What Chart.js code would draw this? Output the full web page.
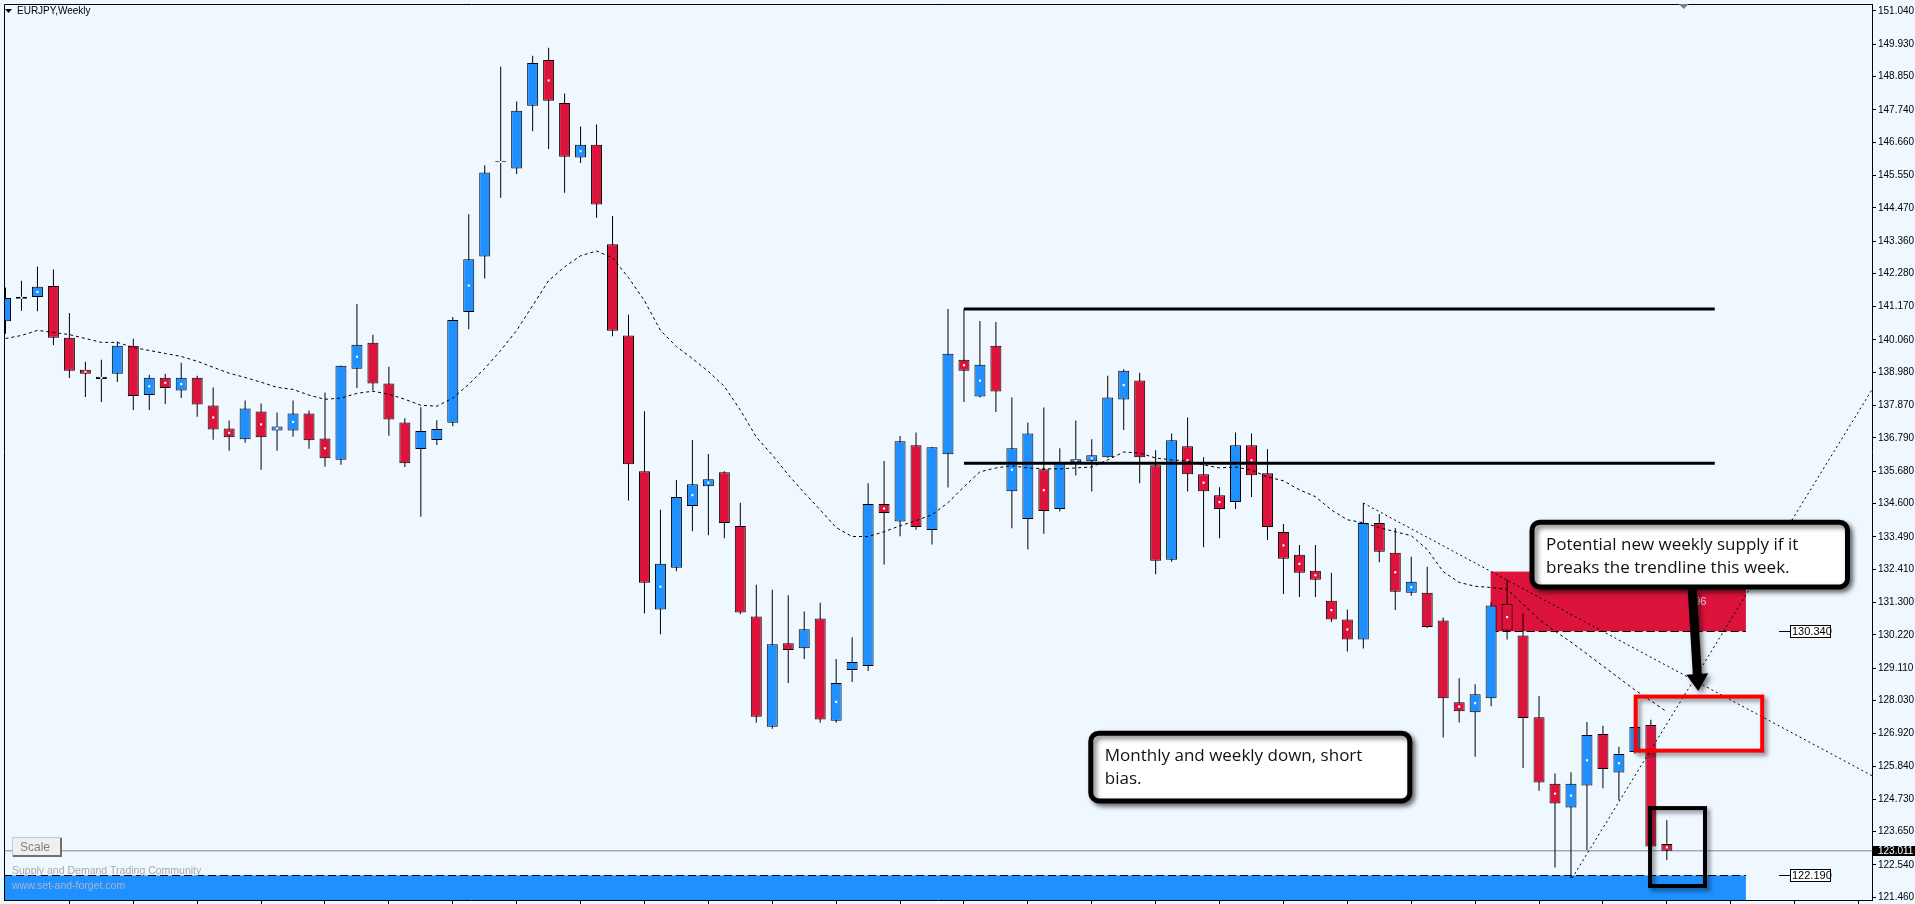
<!DOCTYPE html>
<html>
<head>
<meta charset="utf-8">
<title>EURJPY,Weekly</title>
<script src="https://cdn.jsdelivr.net/npm/chart.js@4.4.0/dist/chart.umd.min.js"></script>
<style>
  html, body { margin: 0; padding: 0; background: #F0F8FF; overflow: hidden; }
  #myChart { display: block; }
</style>
</head>
<body>
<canvas id="myChart" width="1915" height="904"></canvas>
<script>
// weekly candles, index 0 = first visible bar
var opens = [140.684,141.504,141.494,141.860,140.132,139.069,138.836,138.936,139.866,138.225,
  138.803,138.371,138.803,137.873,137.109,136.743,137.674,137.042,137.042,137.607,
  136.776,136.065,139.102,139.966,138.604,137.308,136.421,136.720,137.298,140.996,
  142.843,145.993,145.780,147.874,149.402,147.973,146.146,146.578,143.255,140.209,
  135.680,131.062,132.457,134.517,135.182,135.647,133.853,130.829,127.151,129.942,
  129.776,130.763,127.351,129.045,129.178,134.584,134.006,136.544,133.720,136.245,
  139.401,138.172,139.866,135.015,134.085,135.746,134.417,135.979,136.012,136.145,
  138.072,138.704,135.880,132.723,136.511,135.580,134.882,134.650,136.544,135.614,
  133.653,132.889,132.357,131.361,130.729,130.065,133.952,132.956,131.626,131.626,
  130.696,127.972,127.639,128.105,131.261,130.198,127.473,125.247,124.460,125.191,
  126.909,125.623,126.310,127.208,123.240];
var highs = [141.813,142.036,142.511,142.411,140.963,139.335,139.401,140.009,140.099,138.903,
  138.936,139.302,138.870,138.471,137.375,138.039,137.939,137.640,138.039,137.707,
  138.305,139.212,141.262,140.232,139.169,137.451,137.816,137.384,140.830,144.252,
  145.890,149.179,148.016,149.545,149.811,148.282,147.186,147.252,144.196,140.906,
  137.684,134.394,135.391,136.720,136.255,135.680,134.627,131.892,131.726,131.537,
  130.995,131.294,129.410,130.141,135.281,136.022,136.853,136.976,136.487,141.096,
  141.096,140.697,140.664,138.139,137.308,137.806,136.444,137.375,136.743,138.870,
  139.080,138.969,136.378,136.943,137.474,136.145,135.148,136.976,136.943,136.411,
  133.919,133.221,133.221,132.291,131.062,134.617,134.251,133.786,132.822,132.490,
  130.796,128.769,128.570,131.304,132.059,130.929,128.181,125.590,125.633,127.307,
  127.184,126.487,127.251,127.384,124.028];
var lows = [140.265,141.039,141.016,139.886,138.790,138.159,137.993,138.657,137.727,137.727,
  137.926,138.125,137.494,136.730,136.364,136.630,135.733,136.364,136.830,136.431,
  135.833,135.899,138.458,138.371,136.863,135.823,134.162,136.554,137.185,140.418,
  142.112,144.804,145.601,147.030,146.432,144.970,145.967,144.139,140.185,134.703,
  130.929,130.241,132.344,133.673,133.540,133.441,130.906,127.284,127.085,128.613,
  129.410,127.284,127.284,128.646,129.012,132.567,133.507,133.730,133.231,135.135,
  137.993,138.139,137.660,133.773,133.065,133.597,134.338,135.534,135.002,136.130,
  137.052,135.281,132.245,132.656,135.002,133.142,133.441,134.417,134.816,133.387,
  131.580,131.481,131.481,130.650,129.666,129.766,132.643,131.048,131.527,130.450,
  126.796,127.294,126.154,127.839,130.065,125.779,125.015,122.456,122.101,123.041,
  125.101,124.703,126.254,123.154,122.709];
var closes = [141.461,141.438,141.837,140.132,139.036,138.936,138.757,139.866,138.192,138.803,
  138.458,138.803,137.906,137.075,136.810,137.773,136.810,137.175,137.607,136.710,
  136.112,139.202,139.900,138.604,137.408,135.946,137.019,137.085,140.730,142.757,
  145.648,146.006,147.708,149.302,148.040,146.179,146.578,144.584,140.365,135.913,
  131.959,132.590,134.816,135.248,135.414,133.952,130.962,127.483,129.909,129.710,
  130.407,127.394,128.613,129.311,134.584,134.284,136.677,133.819,136.477,139.601,
  139.036,139.235,138.338,136.444,136.943,134.351,135.946,136.079,136.212,138.139,
  139.036,136.145,132.690,136.710,135.580,135.015,134.417,136.544,135.547,133.819,
  132.756,132.291,132.059,130.729,130.065,133.952,132.989,131.660,131.992,130.484,
  128.105,127.673,128.238,131.195,130.364,127.440,125.291,124.593,125.247,126.875,
  125.746,126.244,127.141,123.154,123.011];
// dotted moving average
var maValues = [140.11,140.21,140.38,140.31,140.24,140.11,139.98,139.98,139.81,139.71,
  139.61,139.51,139.35,139.15,138.95,138.81,138.65,138.48,138.41,138.22,
  138.08,138.12,138.28,138.35,138.25,138.08,137.88,137.85,138.12,138.58,
  139.11,139.71,140.38,141.21,142.04,142.50,142.87,143.03,142.80,142.14,
  141.37,140.38,139.84,139.44,139.01,138.51,137.72,136.82,136.22,135.56,
  134.96,134.39,133.80,133.50,133.50,133.66,133.86,134.03,134.23,134.63,
  135.16,135.66,135.79,135.86,135.79,135.76,135.76,135.79,135.82,136.06,
  136.32,136.29,136.12,136.06,136.02,135.89,135.79,135.82,135.72,135.49,
  135.36,135.06,134.83,134.39,134.06,133.96,133.80,133.66,133.53,133.07,
  132.33,131.97,131.84,131.80,131.74,131.24,130.74,130.34,129.98,129.58,
  129.18,128.78,128.38,128.02,127.65];
// bars that carry the small white marker
var dotBars = [1,2,5,6,9,10,11,13,14,16,17,18,20,22,29,31,34,36,41,43,44,52,55,60,61,63,65,67,68,70,
  74,75,76,78,80,81,82,83,84,87,88,91,92,94,97,98,99,101,102,104];

var yTickValues = [151.040,149.930,148.850,147.740,146.660,145.550,144.470,143.360,142.280,141.170,
  140.060,138.980,137.870,136.790,135.680,134.600,133.490,132.410,131.300,130.220,
  129.110,128.030,126.920,125.840,124.730,123.650,122.540,121.460];
var xTickBars = [4,8,12,16,20,24,28,32,36,40,44,48,52,56,60,64,68,72,76,80,84,88,92,96,100,104,108,112,116];

var levelPrices = [141.096, 135.946];   // the two black horizontal lines
var levelBars = [60, 107];
var supplyZone = [130.34, 132.33];
var demandTop = 122.19;
var zoneBars = [92.97, 108.95];
var lastPrice = 123.011;
var trend1 = [{x: 85, y: 134.617}, {x: 116.84, y: 125.52}];
var trend2 = [{x: 98.07, y: 122.101}, {x: 116.84, y: 138.40}];

var xMin = -0.09375, xMax = 116.84375;
var yMin = 121.370, yMax = 151.273;

var bull = '#1E90FF', bear = '#DC143C';

function xy(vals) { return vals.map(function (v, i) { return {x: i, y: v}; }); }

var bodyData = opens.map(function (o, i) { return {x: i, y: [o, closes[i]]}; });
var wickData = opens.map(function (o, i) { return {x: i, y: [lows[i], highs[i]]}; });
var bodyColors = opens.map(function (o, i) { return closes[i] >= o ? bull : bear; });
var dotData = dotBars.map(function (i) { return {x: i, y: (opens[i] + closes[i]) / 2}; });

// annotation boxes in bar/price coordinates
var redBox = {x0: 102.05, x1: 109.97, top: 128.158, bottom: 126.354};
var blackBox = {x0: 102.95, x1: 106.39, top: 124.437, bottom: 121.836};
var callouts = [
  {x0: 95.56, x1: 115.31, top: 133.979, bottom: 131.82,
   lines: ['Potential new weekly supply if it', 'breaks the trendline this week.']},
  {x0: 67.94, x1: 87.91, top: 126.935, bottom: 124.676,
   lines: ['Monthly and weekly down, short', 'bias.']}
];
var arrowFrom = {x: 105.59, y: 131.736}, arrowTo = {x: 105.97, y: 128.347};
var labelBar = 111.03;
var shiftBar = 105.06;

function fmt(v) { return v.toFixed(3); }

var zonesPlugin = {
  id: 'zones',
  beforeDraw: function (chart) {
    var c = chart.ctx;
    c.save();
    c.fillStyle = '#F0F8FF';
    c.fillRect(0, 0, chart.width, chart.height);
    c.restore();
  },
  beforeDatasetsDraw: function (chart) {
    var c = chart.ctx, a = chart.chartArea, x = chart.scales.x, y = chart.scales.y;
    var zx0 = x.getPixelForValue(zoneBars[0]), zx1 = x.getPixelForValue(zoneBars[1]);
    c.save();
    c.beginPath(); c.rect(a.left, a.top, a.right - a.left, a.bottom - a.top); c.clip();
    // supply zone
    var st = y.getPixelForValue(supplyZone[1]), sb = y.getPixelForValue(supplyZone[0]);
    c.fillStyle = bear;
    c.fillRect(zx0, st, zx1 - zx0, sb - st);
    // demand zone
    var dt = y.getPixelForValue(demandTop);
    c.fillStyle = bull;
    c.fillRect(a.left, dt, zx1 - a.left, a.bottom - dt);
    c.setLineDash([8, 4]);
    c.strokeStyle = '#000';
    c.lineWidth = 1;
    c.beginPath();
    c.moveTo(zx0, Math.round(sb) + 0.5); c.lineTo(zx1, Math.round(sb) + 0.5);
    c.moveTo(a.left, Math.round(dt) + 0.5); c.lineTo(zx1, Math.round(dt) + 0.5);
    c.stroke();
    c.setLineDash([]);
    c.fillStyle = '#F3D3DA';
    c.font = '11px "Liberation Sans", Arial, sans-serif';
    c.textAlign = 'right';
    c.fillText('96', x.getPixelForValue(105.85) + 10, (st + sb) / 2 + 4);
    c.restore();
  },
  afterDatasetsDraw: function (chart) {
    var c = chart.ctx, x = chart.scales.x, y = chart.scales.y;
    c.save();
    // level labels on the right of the zones
    [supplyZone[0], demandTop].forEach(function (v) {
      var ly = Math.round(y.getPixelForValue(v)) + 0.5;
      var lx = Math.round(x.getPixelForValue(labelBar));
      c.strokeStyle = '#000'; c.lineWidth = 1;
      c.beginPath(); c.moveTo(lx, ly); c.lineTo(lx + 11, ly); c.stroke();
      c.fillStyle = '#fff';
      c.fillRect(lx + 11.5, ly - 6, 40, 12);
      c.strokeRect(lx + 11.5, ly - 6, 40, 12);
      c.fillStyle = '#000';
      c.font = '11px "Liberation Sans", Arial, sans-serif';
      c.textAlign = 'left'; c.textBaseline = 'middle';
      c.fillText(fmt(v), lx + 13, ly + 0.5);
    });
    c.textBaseline = 'alphabetic';
    // shadowed outline boxes
    function box(b, color, w) {
      var x0 = x.getPixelForValue(b.x0), x1 = x.getPixelForValue(b.x1);
      var y0 = y.getPixelForValue(b.top), y1 = y.getPixelForValue(b.bottom);
      c.save();
      c.shadowColor = 'rgba(0,0,0,0.45)'; c.shadowBlur = 4; c.shadowOffsetX = 3; c.shadowOffsetY = 3;
      c.strokeStyle = color; c.lineWidth = w;
      c.strokeRect(x0, y0, x1 - x0, y1 - y0);
      c.restore();
    }
    box(redBox, '#FF0000', 4);
    box(blackBox, '#000', 4);
    // callouts
    callouts.forEach(function (b, k) {
      var x0 = x.getPixelForValue(b.x0), x1 = x.getPixelForValue(b.x1);
      var y0 = y.getPixelForValue(b.top), y1 = y.getPixelForValue(b.bottom);
      c.save();
      c.shadowColor = 'rgba(0,0,0,0.5)'; c.shadowBlur = 5; c.shadowOffsetX = 3; c.shadowOffsetY = 3;
      c.beginPath();
      c.roundRect(x0, y0, x1 - x0, y1 - y0, 8);
      c.fillStyle = '#fff'; c.fill();
      c.lineWidth = 5; c.strokeStyle = '#000'; c.stroke();
      if (k === 0) {
        var sx = x.getPixelForValue(arrowFrom.x), sy = y.getPixelForValue(arrowFrom.y);
        var tx = x.getPixelForValue(arrowTo.x), ty = y.getPixelForValue(arrowTo.y);
        var ang = Math.atan2(ty - sy, tx - sx), cs = Math.cos(ang), sn = Math.sin(ang);
        var bx = tx - 17 * cs, by = ty - 17 * sn, nx = -sn, ny = cs;
        c.beginPath();
        c.moveTo(sx + nx * 4.5, sy + ny * 4.5);
        c.lineTo(bx + nx * 4.5, by + ny * 4.5);
        c.lineTo(bx + nx * 11, by + ny * 11);
        c.lineTo(tx, ty);
        c.lineTo(bx - nx * 11, by - ny * 11);
        c.lineTo(bx - nx * 4.5, by - ny * 4.5);
        c.lineTo(sx - nx * 4.5, sy - ny * 4.5);
        c.closePath();
        c.fillStyle = '#000'; c.fill();
      }
      c.restore();
      c.fillStyle = '#111';
      c.font = '17px "Open Sans", "Noto Sans", sans-serif';
      c.textAlign = 'left';
      b.lines.forEach(function (t, j) {
        c.fillText(t, x0 + 14, y0 + 28 + j * 23);
      });
    });
    c.restore();
  },
  afterDraw: function (chart) {
    var c = chart.ctx, a = chart.chartArea, x = chart.scales.x, y = chart.scales.y;
    c.save();
    // frame
    c.strokeStyle = '#000'; c.lineWidth = 1;
    c.beginPath();
    c.moveTo(a.left + 0.5, a.bottom); c.lineTo(a.left + 0.5, a.top + 0.5); c.lineTo(a.right, a.top + 0.5);
    c.stroke();
    // symbol caption
    c.fillStyle = '#000';
    c.beginPath(); c.moveTo(5, 9); c.lineTo(12, 9); c.lineTo(8.5, 13); c.closePath(); c.fill();
    c.font = '10px "Liberation Sans", Arial, sans-serif';
    c.textAlign = 'left';
    c.fillText('EURJPY,Weekly', 17, 14);
    // chart shift marker
    var mx = x.getPixelForValue(shiftBar);
    c.fillStyle = '#708090';
    c.beginPath(); c.moveTo(mx - 5, a.top); c.lineTo(mx + 5, a.top); c.lineTo(mx, a.top + 5); c.closePath(); c.fill();
    // scale button
    c.fillStyle = '#EFEFEF';
    c.fillRect(12, 837, 50, 20);
    c.strokeStyle = '#C8C8C8';
    c.beginPath(); c.moveTo(12.5, 856.5); c.lineTo(12.5, 837.5); c.lineTo(61.5, 837.5); c.stroke();
    c.strokeStyle = '#707070'; c.lineWidth = 2;
    c.beginPath(); c.moveTo(13, 856); c.lineTo(61, 856); c.lineTo(61, 838); c.stroke();
    c.fillStyle = '#808080';
    c.font = '12px "Liberation Sans", Arial, sans-serif';
    c.fillText('Scale', 20, 851);
    c.font = '10.5px "Liberation Sans", Arial, sans-serif';
    c.fillStyle = '#A8A8A8';
    c.fillText('Supply and Demand Trading Community', 12, 874);
    c.fillStyle = '#A9B6C6';
    c.fillText('www.set-and-forget.com', 12, 889);
    // last price tag on the axis
    var py = y.getPixelForValue(lastPrice);
    c.fillStyle = '#000';
    c.fillRect(a.right + 1, Math.round(py) - 5, chart.width - a.right, 10);
    c.fillStyle = '#fff';
    c.font = '10px "Liberation Sans", Arial, sans-serif';
    c.textBaseline = 'middle';
    c.fillText(fmt(lastPrice), a.right + 6, Math.round(py) + 0.5);
    c.restore();
  }
};

var ctx = document.getElementById('myChart').getContext('2d');

var chart1 = new Chart(ctx, {
  type: 'bar',
  data: {
    datasets: [
      {type: 'line', label: 'MA', data: xy(maValues), borderColor: '#000', borderWidth: 1,
       borderDash: [3, 3], pointRadius: 0, tension: 0, order: 0},
      {type: 'line', label: 'trend down', data: trend1, borderColor: '#000', borderWidth: 1,
       borderDash: [2, 3], pointRadius: 0, order: 0},
      {type: 'line', label: 'trend up', data: trend2, borderColor: '#000', borderWidth: 1,
       borderDash: [2, 3], pointRadius: 0, order: 0},
      {type: 'line', label: 'level 1', data: [{x: levelBars[0], y: levelPrices[0]}, {x: levelBars[1], y: levelPrices[0]}],
       borderColor: '#000', borderWidth: 3, borderCapStyle: 'butt', pointRadius: 0, order: 0},
      {type: 'line', label: 'level 2', data: [{x: levelBars[0], y: levelPrices[1]}, {x: levelBars[1], y: levelPrices[1]}],
       borderColor: '#000', borderWidth: 3, borderCapStyle: 'butt', pointRadius: 0, order: 0},
      {type: 'line', label: 'marks', data: dotData, showLine: false, pointStyle: 'rect',
       pointRadius: 1.5, pointBackgroundColor: '#fff', pointBorderWidth: 0, order: 0},
      {label: 'body', data: bodyData, backgroundColor: bodyColors, borderColor: '#000', borderWidth: 1,
       borderSkipped: false, barThickness: 11, grouped: false, inflateAmount: 0, minBarLength: 1, order: 1},
      {label: 'wick', data: wickData, backgroundColor: '#000', borderWidth: 0, barThickness: 1,
       grouped: false, inflateAmount: 0, order: 2},
      {type: 'line', label: 'last', data: [{x: xMin, y: lastPrice}, {x: xMax, y: lastPrice}],
       borderColor: '#778899', borderWidth: 1, pointRadius: 0, order: 5}
    ]
  },
  options: {
    responsive: false,
    animation: false,
    devicePixelRatio: 1,
    layout: {padding: {left: 1, top: 2, right: 0, bottom: 0}},
    plugins: {legend: {display: false}, tooltip: {enabled: false}},
    scales: {
      x: {
        type: 'linear', min: xMin, max: xMax, offset: false,
        grid: {offset: false, drawOnChartArea: false, drawTicks: true, tickLength: 4, color: '#000'},
        border: {display: true, color: '#000'},
        ticks: {display: false},
        afterBuildTicks: function (s) { s.ticks = xTickBars.map(function (v) { return {value: v}; }); },
        afterFit: function (s) { s.height = 2; s.paddingLeft = 0; s.paddingRight = 0; }
      },
      y: {
        type: 'linear', position: 'right', min: yMin, max: yMax, beginAtZero: false,
        grid: {drawOnChartArea: false, drawTicks: true, tickLength: 4, color: '#000'},
        border: {display: true, color: '#000'},
        ticks: {
          autoSkip: false, padding: 2, color: '#000',
          font: {family: '"Liberation Sans", Arial, sans-serif', size: 10},
          callback: function (v) { return fmt(v); }
        },
        afterBuildTicks: function (s) { s.ticks = yTickValues.map(function (v) { return {value: v}; }); },
        afterFit: function (s) { s.width = 43; s.paddingTop = 0; s.paddingBottom = 0; }
      }
    }
  },
  plugins: [zonesPlugin]
});
</script>
</body>
</html>
